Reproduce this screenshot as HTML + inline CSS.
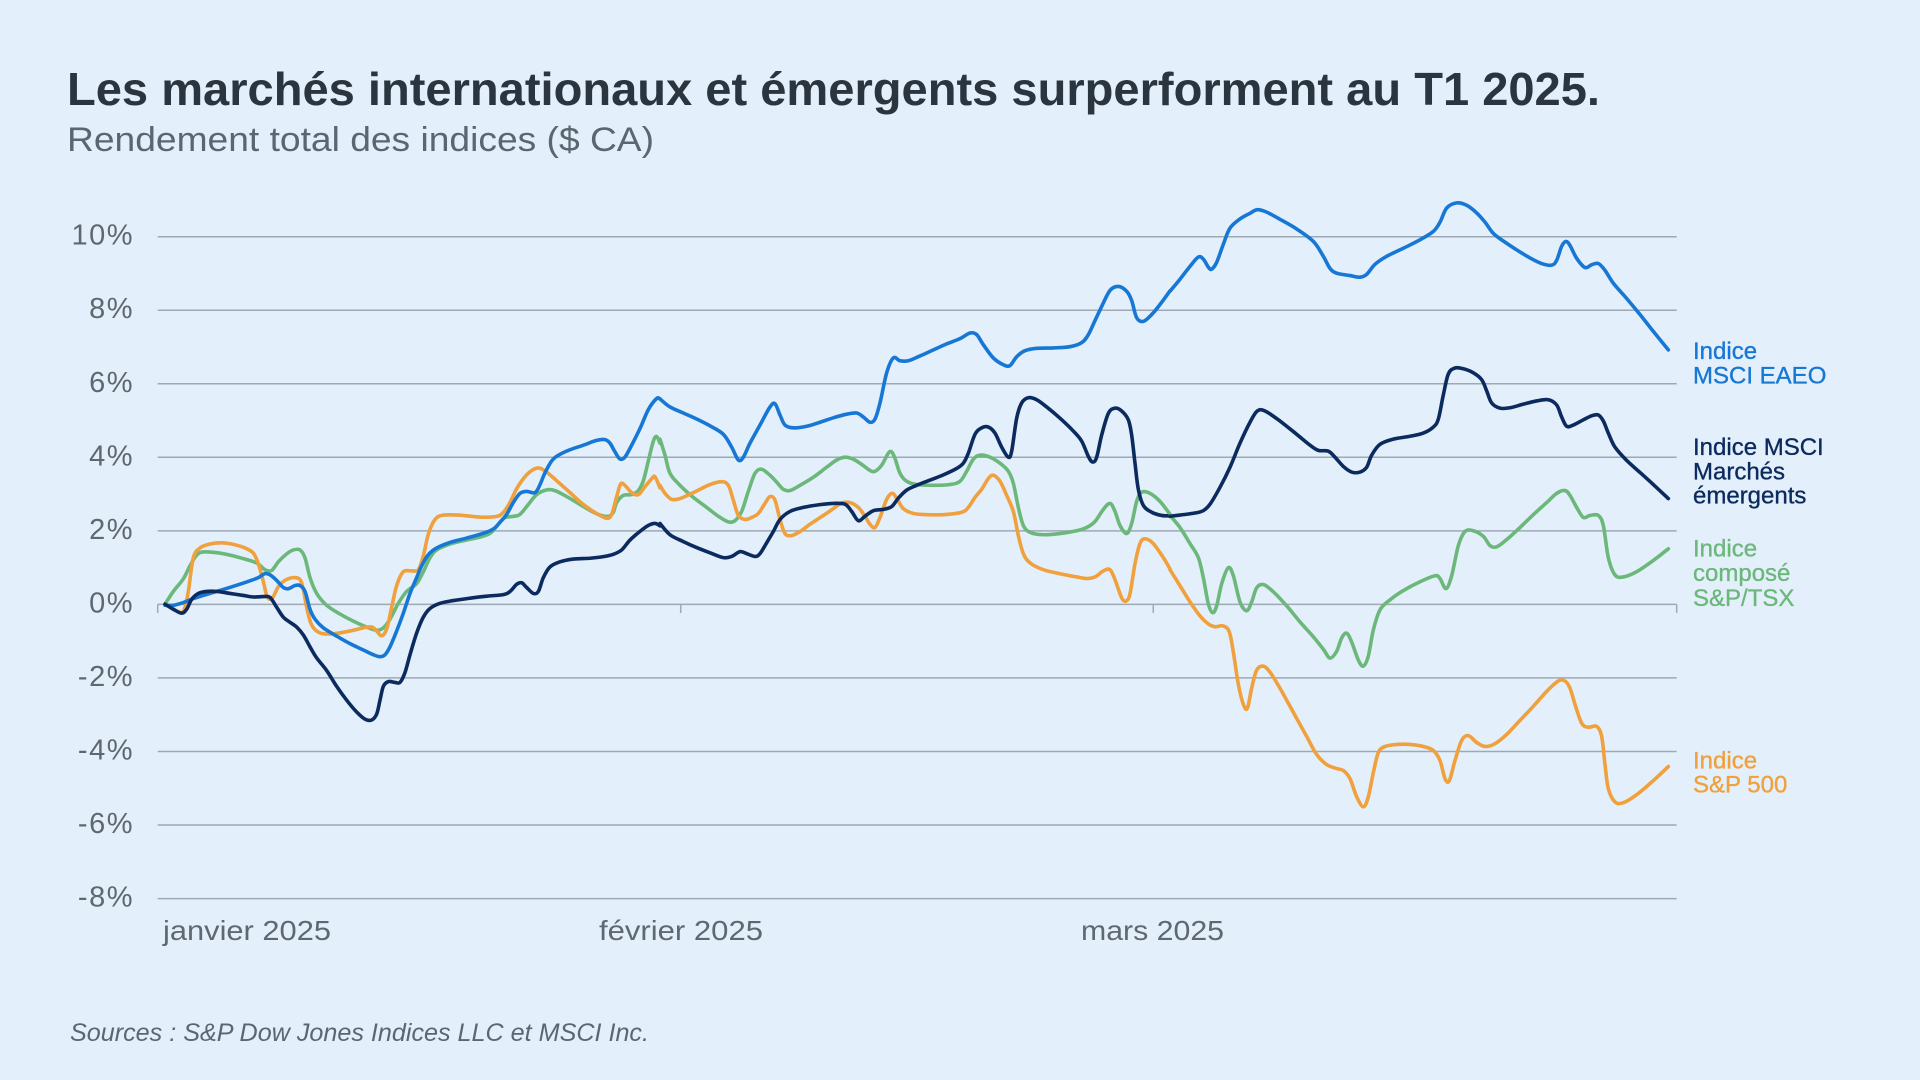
<!DOCTYPE html>
<html lang="fr">
<head>
<meta charset="utf-8">
<title>Les marchés internationaux et émergents surperforment au T1 2025.</title>
<style>
  html,body{margin:0;padding:0;background:#e3effa;}
  body{width:1920px;height:1080px;overflow:hidden;}
  svg{display:block;}
  text{font-family:"Liberation Sans", sans-serif;}
</style>
</head>
<body>
<svg width="1920" height="1080" viewBox="0 0 1920 1080" xmlns="http://www.w3.org/2000/svg">
  <rect x="0" y="0" width="1920" height="1080" fill="#e3effa"/>

  <!-- Title -->
  <text x="67" y="105" font-size="46" font-weight="700" fill="#2a3540" textLength="1533" lengthAdjust="spacingAndGlyphs">Les marchés internationaux et émergents surperforment au T1 2025.</text>
  <text x="67" y="151" font-size="34" fill="#5b6670" textLength="587" lengthAdjust="spacingAndGlyphs">Rendement total des indices ($ CA)</text>

  <!-- Gridlines -->
  <g stroke="#9ea9b4" stroke-width="1.5">
    <line x1="157.7" y1="236.7" x2="1676.7" y2="236.7"/>
    <line x1="157.7" y1="310.2" x2="1676.7" y2="310.2"/>
    <line x1="157.7" y1="383.8" x2="1676.7" y2="383.8"/>
    <line x1="157.7" y1="457.3" x2="1676.7" y2="457.3"/>
    <line x1="157.7" y1="530.9" x2="1676.7" y2="530.9"/>
    <line x1="157.7" y1="604.4" x2="1676.7" y2="604.4"/>
    <line x1="157.7" y1="677.9" x2="1676.7" y2="677.9"/>
    <line x1="157.7" y1="751.5" x2="1676.7" y2="751.5"/>
    <line x1="157.7" y1="825.0" x2="1676.7" y2="825.0"/>
    <line x1="157.7" y1="898.6" x2="1676.7" y2="898.6"/>
    <line x1="157.7" y1="604.4" x2="157.7" y2="613"/>
    <line x1="680.7" y1="604.4" x2="680.7" y2="613"/>
    <line x1="1153.3" y1="604.4" x2="1153.3" y2="613"/>
    <line x1="1676.7" y1="604.4" x2="1676.7" y2="613"/>
  </g>

  <!-- Y labels -->
  <g font-size="29" fill="#5f686f" text-anchor="end" letter-spacing="1.5">
    <text x="134" y="244.7">10%</text>
    <text x="134" y="318.2">8%</text>
    <text x="134" y="391.8">6%</text>
    <text x="134" y="465.3">4%</text>
    <text x="134" y="538.9">2%</text>
    <text x="134" y="612.4">0%</text>
    <text x="134" y="685.9">-2%</text>
    <text x="134" y="759.5">-4%</text>
    <text x="134" y="833.0">-6%</text>
    <text x="134" y="906.6">-8%</text>
  </g>

  <!-- X labels -->
  <g font-size="28" fill="#5f686f">
    <text x="163" y="940" textLength="168" lengthAdjust="spacingAndGlyphs">janvier 2025</text>
    <text x="599" y="940" textLength="164" lengthAdjust="spacingAndGlyphs">février 2025</text>
    <text x="1081" y="940" textLength="143" lengthAdjust="spacingAndGlyphs">mars 2025</text>
  </g>

  <!-- Sources -->
  <text x="70" y="1041" font-size="25" font-style="italic" fill="#5b6670" textLength="579" lengthAdjust="spacingAndGlyphs">Sources :  S&amp;P Dow Jones Indices LLC et MSCI Inc.</text>

  <!-- Series: section 1 -->
  <g transform="translate(150,200) scale(0.33333,0.39541)" fill="none" stroke-linejoin="round" stroke-linecap="round">
    <polyline class="s" vector-effect="non-scaling-stroke" stroke="#6bb87a" stroke-width="3.6" points="45,1022 70,990 100,958 120,925 140,898 160,890 200,892 240,898 280,907 320,918 345,935 365,937 385,915 410,895 430,885 450,885 465,905 480,955 500,995 530,1025 570,1047 610,1065 650,1080 680,1088 700,1082 720,1060 745,1020 770,990 800,970 820,940 840,905 860,885 900,870 950,860 1000,850 1025,840 1050,815 1065,803 1090,800 1110,795 1135,770 1160,745 1190,733 1215,735 1250,750 1290,770 1320,785 1350,797 1375,800 1390,790 1400,765 1420,747 1445,745 1465,735 1480,710 1495,660 1510,610 1520,598 1530,615"/>
    <polyline class="s" vector-effect="non-scaling-stroke" stroke="#f0a03c" stroke-width="3.6" points="45,1022 70,1035 95,1043 105,1030 115,990 130,905 150,880 180,870 215,867 250,871 285,880 310,893 325,920 340,965 350,1000 360,1010 370,1003 385,978 405,962 430,955 450,960 460,985 470,1030 485,1075 510,1095 550,1097 600,1090 640,1082 665,1080 680,1090 695,1102 710,1085 725,1030 740,975 760,940 785,938 805,935 820,900 835,845 855,808 880,797 930,797 990,802 1040,800 1060,790 1080,765 1100,730 1130,695 1160,678 1185,685 1220,710 1260,740 1300,770 1340,793 1370,805 1385,795 1400,750 1412,718 1425,722 1445,740 1465,745 1485,725 1505,705 1515,700 1530,728"/>
    <polyline class="s" vector-effect="non-scaling-stroke" stroke="#1677d5" stroke-width="3.6" points="45,1025 70,1025 100,1018 130,1008 160,1000 200,990 250,977 300,963 325,955 345,945 360,948 380,962 400,980 415,983 435,975 450,975 465,990 480,1035 495,1060 520,1082 560,1103 600,1122 640,1138 670,1150 690,1155 705,1150 720,1130 740,1090 760,1045 780,995 800,955 815,925 835,897 860,880 900,866 950,855 1000,843 1030,832 1050,815 1070,795 1090,765 1110,742 1130,737 1155,740 1170,720 1185,690 1210,655 1250,635 1300,620 1340,608 1365,606 1380,615 1395,637 1410,655 1425,650 1445,620 1470,578 1495,530 1520,502 1530,503"/>
    <polyline class="s" vector-effect="non-scaling-stroke" stroke="#0b2a5e" stroke-width="3.6" points="45,1022 70,1035 95,1045 110,1035 125,1010 145,995 170,990 200,990 240,995 280,1000 310,1004 340,1003 360,1005 380,1030 400,1055 420,1068 440,1080 460,1100 480,1130 500,1158 530,1190 560,1230 590,1265 620,1295 645,1313 665,1315 680,1300 690,1265 700,1230 715,1218 735,1220 750,1220 765,1195 780,1150 800,1095 820,1055 840,1033 870,1020 910,1013 960,1007 1010,1002 1060,998 1080,990 1100,972 1115,968 1130,980 1150,995 1165,990 1180,955 1200,928 1230,915 1270,908 1320,906 1360,902 1390,896 1415,885 1440,860 1470,838 1495,823 1515,818 1530,824"/>
  </g>

  <!-- Series: section 2 -->
  <g transform="translate(660,190) scale(0.33333,0.40179)" fill="none" stroke-linejoin="round" stroke-linecap="round">
    <polyline class="s" vector-effect="non-scaling-stroke" stroke="#6bb87a" stroke-width="3.6" points="0,620 15,660 30,705 60,735 100,765 140,790 175,812 205,826 225,823 245,800 265,750 285,705 305,695 330,710 350,727 370,745 390,748 420,735 460,715 500,690 530,672 555,665 580,670 605,683 630,698 645,700 665,685 685,655 695,652 705,668 720,705 740,725 770,733 820,735 870,733 900,725 920,700 940,670 960,660 990,665 1020,680 1045,700 1060,730 1075,790 1090,835 1110,852 1150,858 1200,855 1250,848 1280,840 1305,825 1330,795 1350,780 1365,800 1380,835 1400,855 1415,830 1430,775 1445,752 1470,755 1500,775 1530,807"/>
    <polyline class="s" vector-effect="non-scaling-stroke" stroke="#f0a03c" stroke-width="3.6" points="0,735 15,755 35,770 60,768 90,757 120,745 150,733 185,726 205,735 220,772 235,810 255,820 275,815 295,805 315,780 330,763 345,772 360,820 375,855 395,860 420,850 450,832 490,810 520,793 545,779 570,778 595,790 615,812 630,832 645,840 660,815 680,770 697,755 712,770 730,793 760,805 800,808 850,808 905,802 925,790 945,765 965,745 985,718 1000,710 1020,725 1040,760 1060,800 1075,860 1090,905 1110,928 1150,945 1200,955 1250,963 1280,967 1305,963 1330,948 1350,945 1365,970 1385,1015 1398,1023 1410,1005 1425,930 1440,880 1455,868 1480,880 1510,915 1530,943"/>
    <polyline class="s" vector-effect="non-scaling-stroke" stroke="#1677d5" stroke-width="3.6" points="0,520 30,540 70,555 110,570 150,587 190,608 215,640 235,672 250,665 270,630 300,585 330,540 345,532 360,560 375,585 400,592 440,588 480,578 520,567 560,558 590,555 610,565 630,578 645,570 660,530 680,455 700,418 720,425 745,425 780,413 820,398 860,383 900,370 930,356 950,360 970,385 1000,418 1030,435 1050,437 1070,415 1095,400 1130,394 1180,393 1230,390 1265,380 1285,360 1305,325 1325,290 1350,250 1375,240 1400,252 1415,275 1430,318 1450,327 1475,310 1500,285 1530,251"/>
    <polyline class="s" vector-effect="non-scaling-stroke" stroke="#0b2a5e" stroke-width="3.6" points="0,830 30,858 70,875 110,890 150,903 190,915 215,912 240,900 260,905 285,912 300,905 320,878 340,850 360,820 390,800 430,790 480,783 520,780 555,782 575,800 595,823 615,812 640,798 670,795 695,788 715,767 740,747 770,735 810,722 850,709 890,693 910,680 925,655 945,608 965,592 985,590 1005,605 1025,640 1045,665 1055,650 1070,568 1085,530 1105,517 1130,522 1160,540 1200,568 1240,600 1265,625 1285,663 1298,677 1310,665 1325,610 1345,556 1365,543 1385,550 1405,572 1415,610 1425,680 1435,745 1450,785 1475,802 1505,810 1530,811"/>
  </g>

  <!-- Series: section 3 -->
  <g transform="translate(1170,190) scale(0.33333,0.40179)" fill="none" stroke-linejoin="round" stroke-linecap="round">
    <polyline class="s" vector-effect="non-scaling-stroke" stroke="#6bb87a" stroke-width="3.6" points="0,810 30,840 60,880 85,915 100,965 115,1030 128,1052 140,1035 155,980 175,940 190,960 210,1025 230,1047 245,1025 260,990 280,982 310,1000 350,1035 390,1075 430,1112 460,1143 480,1165 500,1148 515,1115 530,1103 545,1125 565,1170 580,1185 595,1160 610,1095 630,1045 660,1020 700,997 750,975 795,960 810,967 828,992 845,960 865,885 885,850 910,848 940,862 960,885 980,888 1010,870 1050,840 1090,808 1130,778 1160,755 1185,748 1200,760 1220,790 1240,815 1260,810 1285,810 1300,835 1315,915 1335,958 1360,963 1400,950 1450,922 1495,893"/>
    <polyline class="s" vector-effect="non-scaling-stroke" stroke="#f0a03c" stroke-width="3.6" points="0,945 30,985 60,1025 90,1060 115,1080 135,1087 160,1085 178,1100 190,1150 205,1230 220,1280 232,1290 245,1240 260,1195 280,1185 300,1200 330,1240 370,1300 410,1360 440,1405 470,1430 500,1440 520,1445 540,1465 560,1510 580,1535 595,1510 610,1450 625,1400 645,1385 680,1380 720,1380 760,1385 790,1395 810,1420 825,1465 838,1470 855,1420 875,1370 895,1358 920,1375 945,1385 975,1378 1010,1355 1050,1320 1090,1285 1130,1248 1165,1222 1185,1222 1200,1240 1215,1280 1235,1327 1255,1337 1280,1335 1295,1360 1305,1430 1315,1490 1335,1523 1360,1525 1400,1505 1450,1470 1495,1435"/>
    <polyline class="s" vector-effect="non-scaling-stroke" stroke="#1677d5" stroke-width="3.6" points="0,252 30,222 60,190 85,167 100,172 115,192 125,197 140,180 160,135 180,95 210,72 240,58 262,49 290,55 330,73 380,97 430,128 460,165 480,195 500,207 540,213 570,217 590,210 615,185 650,165 700,145 750,124 790,103 810,80 830,45 860,32 890,38 920,57 945,80 970,108 1000,127 1040,149 1080,169 1115,183 1145,187 1160,175 1175,140 1188,128 1200,138 1220,170 1245,193 1265,186 1285,183 1305,200 1330,232 1370,270 1410,310 1450,352 1495,398"/>
    <polyline class="s" vector-effect="non-scaling-stroke" stroke="#0b2a5e" stroke-width="3.6" points="0,812 40,808 75,804 100,798 120,782 150,740 180,690 210,630 240,578 262,550 285,550 330,575 380,608 420,635 445,648 475,650 495,665 520,688 545,702 570,702 590,690 605,660 630,633 670,620 720,613 760,605 790,590 805,570 820,510 835,458 855,443 880,445 910,455 935,472 950,500 965,530 990,543 1020,542 1060,533 1100,525 1135,522 1160,535 1175,565 1190,588 1210,585 1240,572 1265,562 1285,560 1300,575 1315,605 1335,640 1370,673 1410,703 1450,733 1495,768"/>
  </g>

  <!-- Right-side labels -->
  <g font-size="24" stroke-width="0.35">
    <text x="1693" y="359" fill="#1677d5" stroke="#1677d5">Indice</text>
    <text x="1693" y="383.3" fill="#1677d5" stroke="#1677d5">MSCI EAEO</text>

    <text x="1693" y="455" fill="#0b2a5e" stroke="#0b2a5e">Indice MSCI</text>
    <text x="1693" y="479.3" fill="#0b2a5e" stroke="#0b2a5e">Marchés</text>
    <text x="1693" y="503.3" fill="#0b2a5e" stroke="#0b2a5e">émergents</text>

    <text x="1693" y="556.7" fill="#6bb87a" stroke="#6bb87a">Indice</text>
    <text x="1693" y="581" fill="#6bb87a" stroke="#6bb87a">composé</text>
    <text x="1693" y="606" fill="#6bb87a" stroke="#6bb87a">S&amp;P/TSX</text>

    <text x="1693" y="768.3" fill="#f0a03c" stroke="#f0a03c">Indice</text>
    <text x="1693" y="792.7" fill="#f0a03c" stroke="#f0a03c">S&amp;P 500</text>
  </g>
</svg>
<script>
(function(){
  try{
    var NS='http://www.w3.org/2000/svg';
    var list=document.querySelectorAll('polyline.s');
    for(var k=0;k<list.length;k++){
      var pl=list[k];
      var nums=pl.getAttribute('points').trim().split(/[\s,]+/).map(Number);
      var p=[];
      for(var i=0;i+1<nums.length;i+=2)p.push([nums[i],nums[i+1]]);
      if(p.length<3)continue;
      var d='M'+p[0][0]+','+p[0][1];
      for(var j=0;j<p.length-1;j++){
        var p0=p[j>0?j-1:0],p1=p[j],p2=p[j+1],p3=p[j+2<p.length?j+2:j+1];
        var c1x=p1[0]+(p2[0]-p0[0])/6,c1y=p1[1]+(p2[1]-p0[1])/6;
        var c2x=p2[0]-(p3[0]-p1[0])/6,c2y=p2[1]-(p3[1]-p1[1])/6;
        d+=' C'+c1x.toFixed(2)+','+c1y.toFixed(2)+' '+c2x.toFixed(2)+','+c2y.toFixed(2)+' '+p2[0]+','+p2[1];
      }
      var path=document.createElementNS(NS,'path');
      for(var a=0;a<pl.attributes.length;a++){
        var at=pl.attributes[a];
        if(at.name!=='points'&&at.name!=='class')path.setAttribute(at.name,at.value);
      }
      path.setAttribute('d',d);
      path.setAttribute('fill','none');
      pl.parentNode.replaceChild(path,pl);
    }
  }catch(e){}
})();
</script>
</body>
</html>
